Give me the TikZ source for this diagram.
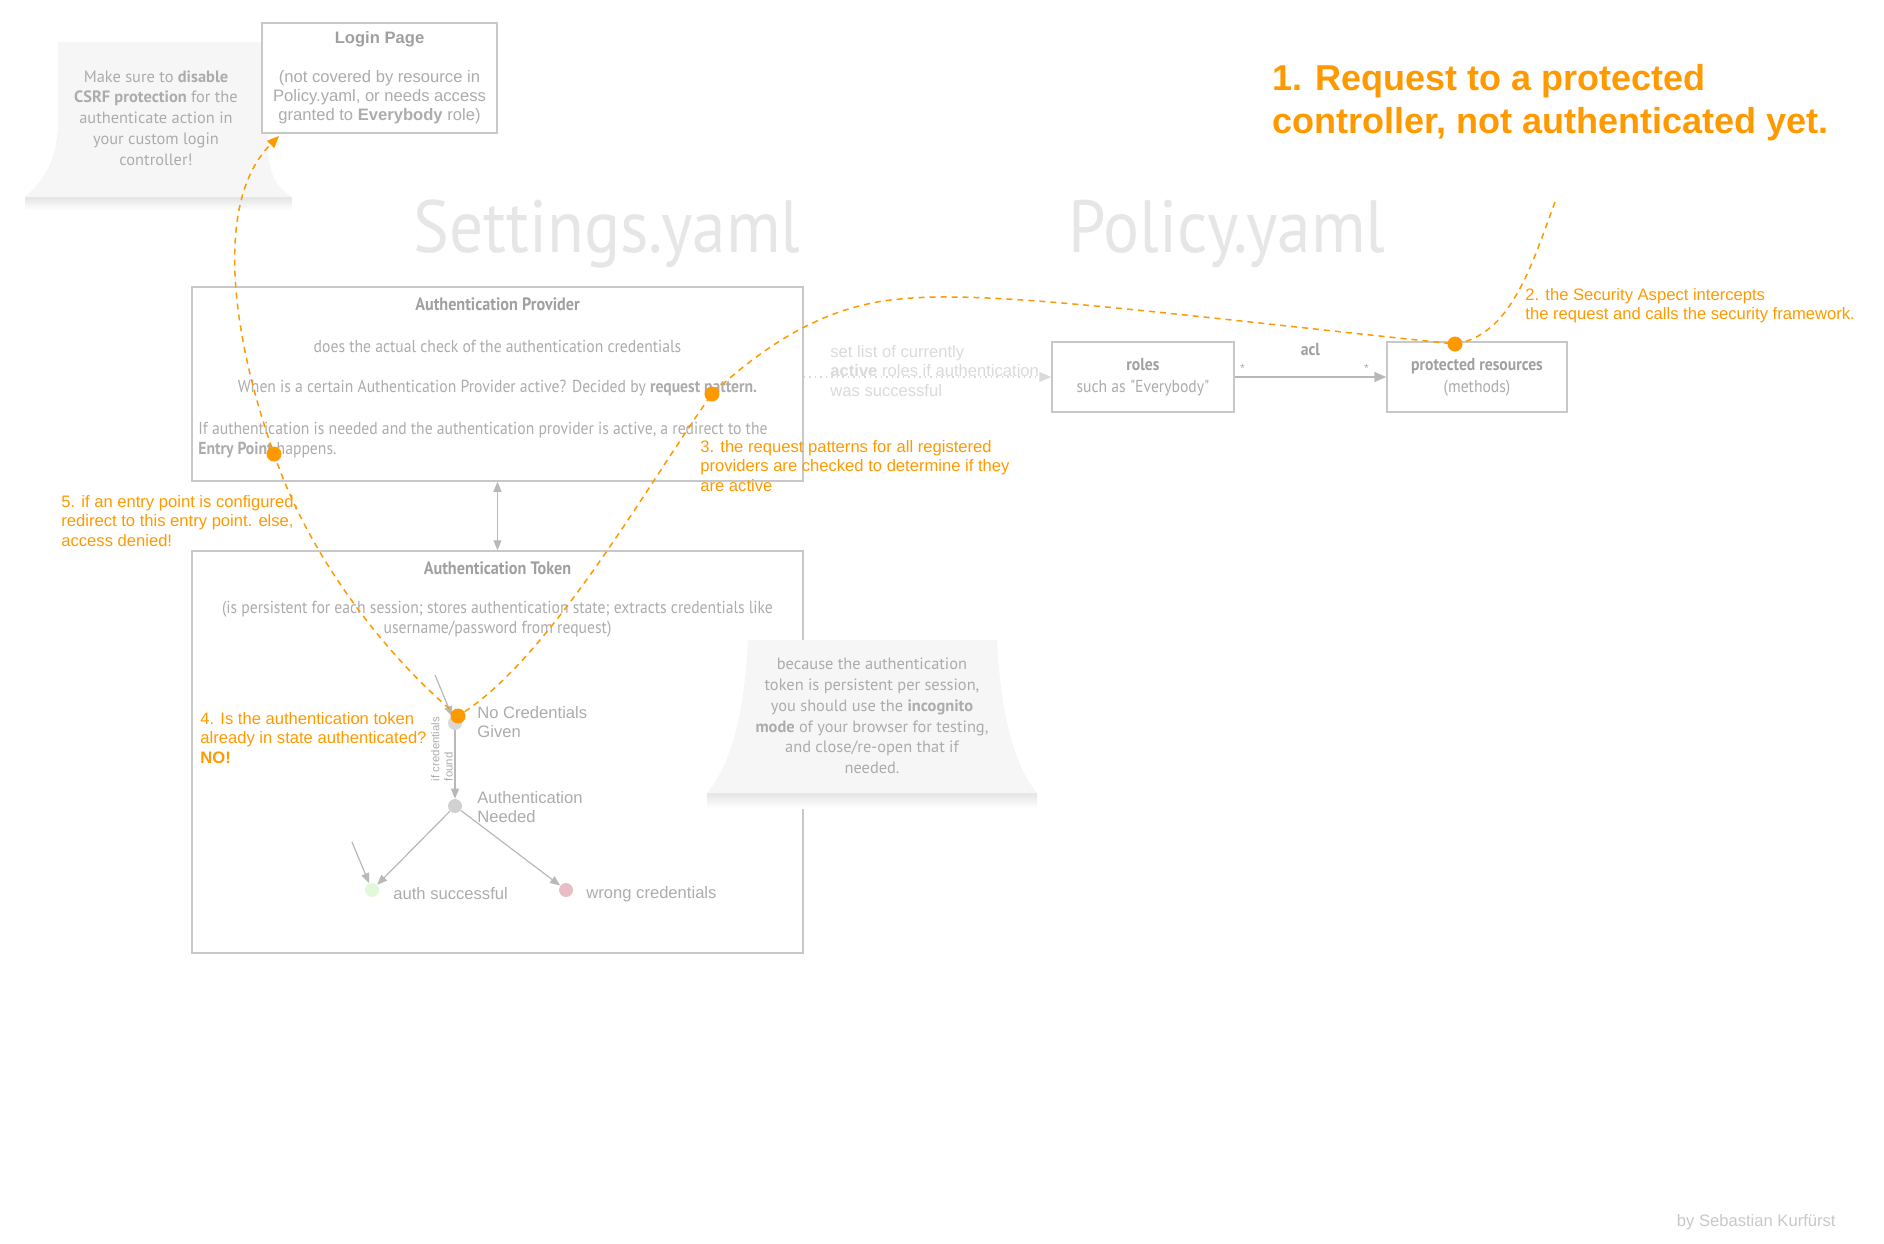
\documentclass[tikz,border=0pt]{standalone}
\usepackage{fontspec}
\setmainfont{Liberation Sans}
\newfontfamily\condfont[FakeStretch=0.9]{PT Sans}
\newfontfamily\notefont{PT Sans}
\newfontfamily\yamlfont[FakeStretch=0.91]{PT Sans}
\usepackage{xcolor}
\definecolor{secorange}{RGB}{255,153,0}
\definecolor{secline}{RGB}{200,200,200}
\definecolor{sectext}{RGB}{172,172,172}
\definecolor{sectitle}{RGB}{160,160,160}
\definecolor{seclight}{RGB}{218,218,218}
\definecolor{secyaml}{RGB}{230,230,230}
\definecolor{secnote}{RGB}{246,246,246}
\definecolor{secshadow}{RGB}{228,228,228}
\definecolor{secgreen}{RGB}{226,248,216}
\definecolor{secpink}{RGB}{232,190,198}
\usetikzlibrary{arrows.meta,positioning,calc}

\begin{document}
\begin{tikzpicture}[x=0.5pt,y=-0.5pt,
  box/.style={draw=secline,line width=0.75pt,inner sep=0pt},
  boxtext/.style={text=sectext,font=\condfont\fontsize{8.7}{10.2}\selectfont,inner sep=0pt},
  boxtitle/.style={text=sectitle,font=\condfont\bfseries\fontsize{9}{10.2}\selectfont,inner sep=0pt},
  yaml/.style={text=secyaml,font=\yamlfont\fontsize{37}{40}\selectfont,inner sep=0pt},
  hint/.style={text=secorange,font=\fontsize{8.3}{9.6}\selectfont,align=left,anchor=west,inner sep=0pt},
  notetext/.style={text=sectext,font=\notefont\fontsize{8.2}{10.4}\selectfont,align=center,inner sep=0pt},
  statedot/.style={circle,minimum size=7pt,inner sep=0pt},
  statelabel/.style={text=sectext,font=\fontsize{8.3}{9.6}\selectfont,align=left,anchor=west,inner sep=0pt},
  stateedge/.style={draw=sectext!85,line width=0.6pt,-{Triangle[length=5pt,width=4pt]}},
  flowdot/.style={circle,fill=secorange,minimum size=7.5pt,inner sep=0pt},
  flow/.style={draw=secorange,line width=0.75pt,dash pattern=on 3pt off 2.5pt}
]
  \useasboundingbox (0,0) rectangle (1884,1243);

  % sticky notes
  \fill[secshadow] (25,197) .. controls (40,185) and (56,165) .. (58,130) -- (58,205) -- cycle;
  \shade[top color=secshadow,bottom color=white] (25,197) rectangle (292,210);
  \fill[secnote] (58,42) -- (268,42) -- (268,150) .. controls (270,180) and (280,190) .. (292,197)
    -- (25,197) .. controls (40,185) and (56,165) .. (58,130) -- cycle;
  \node[notetext] (csrfnote) at (156,118) {Make sure to \textbf{disable}\\\textbf{CSRF protection} for the\\authenticate action in\\your custom login\\controller!};

  % headings
  \node[yaml] (settings) at (607,234) {Settings.yaml};
  \node[yaml] (policy) at (1227,234) {Policy.yaml};
  \node[text=secorange,font=\bfseries\fontsize{18}{21.5}\selectfont,align=left,anchor=west,inner sep=0pt]
    (request) at (1272,103) {1. Request to a protected\\controller, not authenticated yet.};

  % boxes
  \node[box,fill=white,minimum width=117.5pt,minimum height=55pt,align=center,text=sectext,
    font=\fontsize{8.3}{9.6}\selectfont] (login) at (379.5,78)
    {\textcolor{sectitle}{\textbf{Login Page}}\\[9.6pt](not covered by resource in\\Policy.yaml, or needs access\\granted to \textbf{Everybody} role)};
  \node[box,minimum width=305.5pt,minimum height=97pt] (ap) at (497.5,384) {};
  \node[box,minimum width=305.5pt,minimum height=201pt] (at) at (497.5,752) {};
  \node[box,minimum width=91pt,minimum height=35pt,align=center,text=sectext,
    font=\condfont\fontsize{8.7}{11}\selectfont] (roles) at (1143,377)
    {\textcolor{sectitle}{\textbf{roles}}\\such as "Everybody"};
  \node[box,minimum width=90pt,minimum height=35pt,align=center,text=sectext,
    font=\condfont\fontsize{8.7}{11}\selectfont] (pr) at (1477,377)
    {\textcolor{sectitle}{\textbf{protected resources}}\\(methods)};

  % authentication provider
  \node[boxtitle] (aptitle) at (497.5,304) {Authentication Provider};
  \node[boxtext] (apcheck) at (497.5,346) {does the actual check of the authentication credentials};
  \node[boxtext] (apactive) at (497.5,388) {When is a certain Authentication Provider active? Decided by \textbf{request pattern.}};
  \node[boxtext,align=left,anchor=west] (apentry) at (198,440)
    {If authentication is needed and the authentication provider is active, a redirect to the\\\textbf{Entry Point} happens.};

  % authentication token
  \node[boxtitle] (attitle) at (497.5,568) {Authentication Token};
  \node[boxtext,align=center] (atdesc) at (497.5,619)
    {(is persistent for each session; stores authentication state; extracts credentials like\\username/password from request)};

  % token states
  \node[statedot,fill=black!15] (nocred) at (455,723) {};
  \node[statedot,fill=black!18] (needed) at (455,806) {};
  \node[statedot,fill=secgreen] (success) at (372,890) {};
  \node[statedot,fill=secpink] (wrong) at (566,890) {};
  \node[statelabel] at (477,722) {No Credentials\\Given};
  \node[statelabel] at (477,807) {Authentication\\Needed};
  \node[statelabel] at (393,894) {auth successful};
  \node[statelabel] at (586,894) {wrong credentials};
  \coordinate (nocredin) at (435,675);
  \coordinate (successin) at (352,842);
  \draw[stateedge] (nocredin) -- (nocred);
  \draw[stateedge] (successin) -- (success);
  \draw[stateedge] (nocred) -- (needed);
  \node[text=sectext,font=\fontsize{5.7}{6.6}\selectfont,rotate=90,align=left,inner sep=0pt]
    (foundlabel) at (442,749) {if credentials\\found};
  \draw[stateedge] (needed) -- (success);
  \draw[stateedge] (needed) -- (wrong);

  % note on the session
  \shade[top color=secshadow,bottom color=white] (707,793) rectangle (1037,808);
  \fill[secnote] (748,640) -- (997,640) .. controls (1000,700) and (1010,760) .. (1037,793)
    -- (707,793) .. controls (735,760) and (745,700) .. (748,640) -- cycle;
  \node[notetext] (sessionnote) at (872,716) {because the authentication\\token is persistent per session,\\you should use the \textbf{incognito}\\\textbf{mode} of your browser for testing,\\and close/re-open that if\\needed.};

  % connectors
  \draw[draw=sectext!85,line width=0.6pt,{Triangle[length=5pt,width=4pt]}-{Triangle[length=5pt,width=4pt]}]
    (ap.south) -- (at.north);
  \draw[seclight,line width=0.75pt,dotted,-{Triangle[length=6pt,width=5pt]}] (ap.east |- roles.west) -- (roles.west);
  \node[text=seclight,font=\fontsize{8.3}{9.6}\selectfont,align=left,anchor=west,inner sep=0pt]
    (activeroles) at (830,371) {set list of currently\\\textbf{active} roles if authentication\\was successful};
  \draw[draw=sectext!85,line width=0.75pt,-{Triangle[length=6pt,width=5pt]}] (roles.east) -- (pr.west)
    node[midway,above=10.5pt,text=sectitle,font=\condfont\bfseries\fontsize{8.7}{10}\selectfont,inner sep=0pt] {acl}
    node[pos=0.05,above=2pt,text=sectext,font=\fontsize{6}{6}\selectfont,inner sep=0pt] {*}
    node[pos=0.87,above=2pt,text=sectext,font=\fontsize{6}{6}\selectfont,inner sep=0pt] {*};

  % request flow
  \coordinate (reqstart) at (1555,202);
  \coordinate (loginentry) at (279,136);
  \node[flowdot] (intercept) at (1455,344) {};
  \node[flowdot] (pattern) at (712,394) {};
  \node[flowdot] (tokencheck) at (458,716) {};
  \node[flowdot] (entrypoint) at (274,454) {};
  \draw[flow] (reqstart) .. controls (1530,270) and (1510,335) .. (intercept.center)
    .. controls (1150,312) and (990,290) .. (900,299)
    .. controls (830,305) and (770,340) .. (pattern.center)
    .. controls (650,480) and (550,660) .. (tokencheck.center);
  \draw[flow,-{Triangle[length=6pt,width=5pt]}] (tokencheck.center)
    .. controls (390,660) and (310,560) .. (entrypoint.center)
    .. controls (230,330) and (215,200) .. (loginentry);

  % flow annotations
  \node[hint] (hintintercept) at (1525,306) {2. the Security Aspect intercepts\\the request and calls the security framework.};
  \node[hint] (hintpattern) at (700,466) {3. the request patterns for all registered\\providers are checked to determine if they\\are active};
  \node[hint] (hinttoken) at (200,738) {4. Is the authentication token\\already in state authenticated?\\\textbf{NO!}};
  \node[hint] (hintentry) at (61,521) {5. if an entry point is configured,\\redirect to this entry point. else,\\access denied!};

  \node[text=secline,font=\fontsize{8.3}{9.6}\selectfont,anchor=east,inner sep=0pt] (credit) at (1836,1222) {by Sebastian Kurfürst};
\end{tikzpicture}
\end{document}
